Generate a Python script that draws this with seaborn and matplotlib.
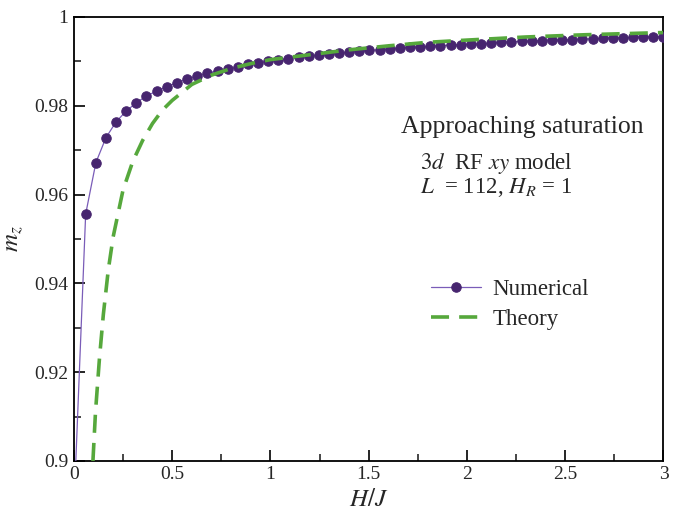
import numpy as np
import pandas as pd
import matplotlib
matplotlib.use("Agg")
import matplotlib.pyplot as plt
from matplotlib.ticker import MultipleLocator
import seaborn as sns

# Numerical data; first point sits below the visible range
h_num = [0.0, 0.06, 0.112, 0.163, 0.215, 0.266, 0.318, 0.369, 0.421, 0.473, 0.524,
         0.576, 0.627, 0.679, 0.731, 0.782, 0.834, 0.885, 0.937, 0.988, 1.040,
         1.092, 1.143, 1.195, 1.246, 1.298, 1.350, 1.401, 1.453, 1.504, 1.556,
         1.607, 1.659, 1.711, 1.762, 1.814, 1.865, 1.917, 1.968, 2.020, 2.072,
         2.123, 2.175, 2.226, 2.278, 2.330, 2.381, 2.433, 2.484, 2.536, 2.587,
         2.639, 2.691, 2.742, 2.794, 2.845, 2.897, 2.948, 3.0]
m_num = [0.889, 0.9556, 0.9672, 0.9728, 0.9764, 0.9788, 0.9807, 0.9822, 0.9833, 0.9843,
         0.9852, 0.9860, 0.9867, 0.9873, 0.9879, 0.9883, 0.9887, 0.9893, 0.9897,
         0.9900, 0.9904, 0.9906, 0.9909, 0.9912, 0.9915, 0.9917, 0.9919, 0.9921,
         0.9923, 0.9925, 0.9926, 0.9928, 0.9930, 0.9932, 0.9932, 0.9934, 0.9935,
         0.9937, 0.9938, 0.9939, 0.9940, 0.9941, 0.9943, 0.9944, 0.9945, 0.9946,
         0.9947, 0.9948, 0.9948, 0.9949, 0.9950, 0.9951, 0.9952, 0.9953, 0.9953,
         0.9954, 0.9955, 0.9955, 0.9956]

# Theory curve
h_th = [0.097, 0.11, 0.13, 0.15, 0.175, 0.2, 0.25, 0.3, 0.35, 0.4, 0.45, 0.5, 0.6, 0.7,
        0.8, 0.9, 1.0, 1.2, 1.4, 1.6, 1.8, 2.0, 2.3, 2.6, 3.0]
m_th = [0.900, 0.911, 0.923, 0.933, 0.943, 0.9505, 0.9610, 0.9675, 0.9722, 0.9760,
        0.9790, 0.9812, 0.9848, 0.9869, 0.9884, 0.9895, 0.9904, 0.9915, 0.9926, 0.9935,
        0.9943, 0.9948, 0.9955, 0.9960, 0.9965]

df_num = pd.DataFrame({"H": h_num, "m": m_num})
df_th = pd.DataFrame({"H": h_th, "m": m_th})

sns.set_theme(style="white")
plt.rcParams["font.family"] = ["Liberation Serif", "DejaVu Serif"]
plt.rcParams["mathtext.fontset"] = "stix"

fig = plt.figure(figsize=(6.84, 5.15), dpi=100)
ax = fig.add_axes([0.108, 0.105, 0.862, 0.862])

sns.lineplot(data=df_num, x="H", y="m", ax=ax, color="#7a5cb8", linewidth=0.9,
             marker="o", markersize=6.8, markerfacecolor="#47256f",
             markeredgecolor="#47256f", label="Numerical", zorder=3)
sns.lineplot(data=df_th, x="H", y="m", ax=ax, color="#56a83c", linewidth=2.6,
             dashes=False, label="Theory", zorder=4)
ax.lines[-1].set_dashes([5, 2.8])

ax.set_xlim(0, 3)
ax.set_ylim(0.9, 1.0)
ax.xaxis.set_major_locator(MultipleLocator(0.5))
ax.xaxis.set_minor_locator(MultipleLocator(0.25))
ax.yaxis.set_major_locator(MultipleLocator(0.02))
ax.yaxis.set_minor_locator(MultipleLocator(0.01))
ax.set_xticks([0, 0.5, 1, 1.5, 2, 2.5, 3])
ax.set_xticklabels(["0", "0.5", "1", "1.5", "2", "2.5", "3"])
ax.set_yticks([0.9, 0.92, 0.94, 0.96, 0.98, 1.0])
ax.set_yticklabels(["0.9", "0.92", "0.94", "0.96", "0.98", "1"])
ax.tick_params(which="major", direction="in", length=8, width=1.2, labelsize=14,
               color="black", bottom=True, left=True, top=False, right=False, pad=4)
ax.tick_params(which="minor", direction="in", length=5, width=1.2,
               bottom=True, left=True, top=False, right=False)
for s in ax.spines.values():
    s.set_color("black")
    s.set_linewidth(1.3)

ax.set_xlabel("$H/J$", fontsize=18, labelpad=4)
ax.set_ylabel("$m_z$", fontsize=18, labelpad=6)

ax.text(2.28, 0.9752, "Approaching saturation", fontsize=18.5, ha="center", va="center")
ax.text(1.76, 0.9670, r"$\mathit{3d}$  RF $\mathit{xy}$ model", fontsize=16.5,
        ha="left", va="center")
ax.text(1.76, 0.9615, r"$L$  = 112, $H_R$ = 1", fontsize=16.5, ha="left", va="center")

leg = ax.legend(loc="upper left", bbox_to_anchor=(0.57, 0.456), frameon=False,
                fontsize=16.5, handlelength=2.2, handletextpad=0.5, labelspacing=0.4)

fig.savefig("out.png", dpi=100)
